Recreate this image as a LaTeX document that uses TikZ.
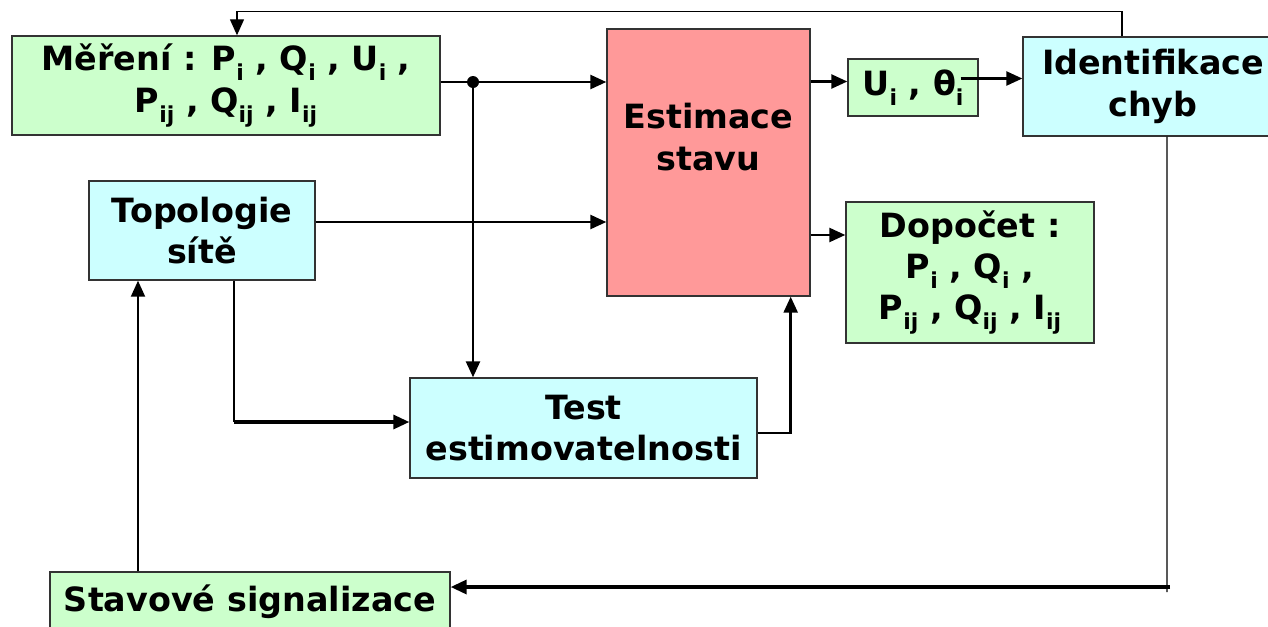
\documentclass[tikz,border=0pt]{standalone}
\usepackage{fontspec}
\setmainfont{DejaVu Sans}
\usetikzlibrary{arrows.meta}

\definecolor{boxgreen}{HTML}{CCFFCC}
\definecolor{boxcyan}{HTML}{CCFFFF}
\definecolor{boxpink}{HTML}{FF9999}

\newcommand\lowidx[1]{\raisebox{-0.55ex}{\fontsize{12.5}{12.5}\selectfont #1}}

\begin{document}
\begin{tikzpicture}[
  x=0.02cm, y=-0.02cm,
  font=\fontsize{19}{23.5}\selectfont\bfseries,
  blk/.style={
    rectangle, draw=black!80, line width=0.8pt,
    align=center, inner sep=0pt
  },
  gblk/.style={blk, fill=boxgreen},
  cblk/.style={blk, fill=boxcyan},
  pblk/.style={blk, fill=boxpink},
  arr/.style={-{Triangle[length=0.32cm,width=0.28cm]}, line width=1.4pt},
  farr/.style={-{Triangle[length=0.32cm,width=0.28cm]}, line width=0.7pt},
  wire/.style={line width=0.7pt},
]
\useasboundingbox (0,0) rectangle (1268,626);

% Blocks
\node[gblk, minimum width=8.56cm, minimum height=1.98cm] (mer) at (226,85.5)
  {Měření : P\lowidx{i} , Q\lowidx{i} , U\lowidx{i} ,\\P\lowidx{ij} , Q\lowidx{ij} , I\lowidx{ij}};
\node[cblk, minimum width=4.52cm, minimum height=1.98cm] (topo) at (202,230.5)
  {Topologie\\sítě};
\node[pblk, minimum width=4.06cm, minimum height=5.34cm] (est) at (708.5,162.5) {};
\node[align=center] (estlbl) at (708.5,137) {Estimace\\stavu};
\node[gblk, minimum width=2.6cm, minimum height=1.14cm] (ui) at (913,87.5)
  {U\lowidx{i} , θ\lowidx{i}};
\node[cblk, minimum width=5.2cm, minimum height=1.98cm] (ident) at (1153,86.5)
  {Identifikace\\chyb};
\node[gblk, minimum width=4.96cm, minimum height=2.82cm] (dop) at (970,272.5)
  {Dopočet :\\P\lowidx{i} , Q\lowidx{i} ,\\P\lowidx{ij} , Q\lowidx{ij} , I\lowidx{ij}};
\node[cblk, minimum width=6.94cm, minimum height=2.0cm] (test) at (583.5,428)
  {Test\\estimovatelnosti};
\node[gblk, minimum width=8.0cm, minimum height=1.2cm] (stav) at (250,602)
  {Stavové signalizace};

% Measurements branch
\coordinate (dot) at (473,82);
\draw[arr] ([yshift=0.07cm]mer.east) -- ([yshift=0.07cm]mer.east -| est.west);
\fill (dot) circle (6);
\draw[arr] (dot) -- (dot |- test.north);
\draw[arr] ([yshift=0.17cm]topo.east) -- ([yshift=0.17cm]topo.east -| est.west);
\draw[wire] ([xshift=0.64cm]topo.south) -- ([xshift=0.64cm,yshift=0.12cm]topo.south |- test.west) coordinate (tcorner);
\draw[arr, line width=1.8pt] (tcorner) -- (tcorner -| test.west);
\draw[arr] ([yshift=-0.1cm]test.east) -| ([xshift=-0.4cm]est.south east);

% Outputs
\draw[arr] ([yshift=0.12cm]ui.west -| est.east) -- ([yshift=0.12cm]ui.west);
\draw[arr] ([xshift=-0.36cm,yshift=0.18cm]ui.east) -- ([yshift=0.18cm]ui.east -| ident.west);
\draw[arr] ([yshift=-1.45cm]est.east) -- ([yshift=-1.45cm]est.east -| dop.west);

% Feedback loops
\draw[farr] ([xshift=-0.62cm]ident.north) |- ([xshift=0.22cm,yshift=0.48cm]mer.north)
  -- ([xshift=0.22cm]mer.north);
\coordinate (fcorner) at ([yshift=0.3cm]stav.east -| 1167,0);
\draw[wire] ([xshift=0.28cm]ident.south) -- ([yshift=-0.1cm]fcorner);
\draw[arr, line width=1.9pt] ([xshift=0.06cm]fcorner) -- ([yshift=0.3cm]stav.east);
\coordinate (sx) at (138,0);
\draw[farr, line width=1.1pt] (stav.north -| sx) -- (topo.south -| sx);

\end{tikzpicture}
\end{document}
